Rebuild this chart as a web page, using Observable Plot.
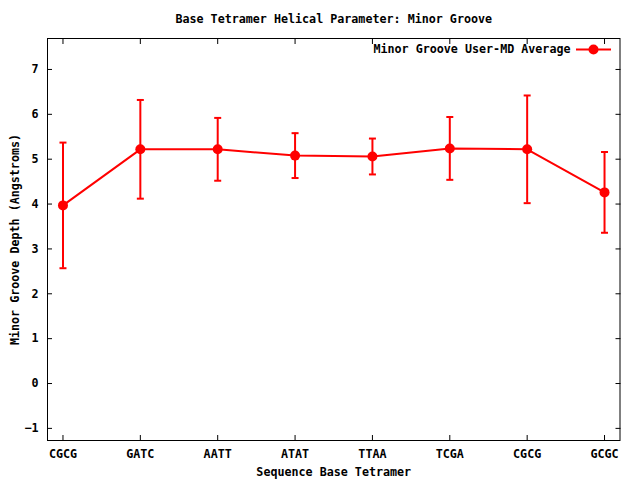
<!DOCTYPE html>
<html>
<head>
<meta charset="utf-8">
<script src="https://cdn.jsdelivr.net/npm/d3@7"></script>
<script src="https://cdn.jsdelivr.net/npm/@observablehq/plot@0.6"></script>
<style>
  html, body { margin: 0; padding: 0; background: #fff; }
</style>
</head>
<body>
<div id="chart"></div>
<script>
const tickLabels = ["CGCG", "GATC", "AATT", "ATAT", "TTAA", "TCGA", "CGCG", "GCGC"];
const means = [3.97, 5.22, 5.22, 5.08, 5.06, 5.24, 5.22, 4.26];
const errors = [1.40, 1.10, 0.70, 0.50, 0.40, 0.70, 1.20, 0.90];
const yTicks = [-1, 0, 1, 2, 3, 4, 5, 6, 7];
const titleText = "Base Tetramer Helical Parameter: Minor Groove";
const xLabel = "Sequence Base Tetramer";
const yLabel = "Minor Groove Depth (Angstroms)";
const legendLabel = "Minor Groove User-MD Average";

const data = tickLabels.map((t, i) => ({i, label: t, y: means[i], lo: means[i] - errors[i], hi: means[i] + errors[i]}));
const xTicks = tickLabels.map((_, i) => i);

const RED = "#ff0000";
const FONT = "'DejaVu Sans Mono', 'Liberation Mono', monospace";

const hline = {
  draw(context, size) {
    const h = Math.sqrt(size / Math.PI);
    context.moveTo(-h, 0);
    context.lineTo(h, 0);
  }
};

const chart = Plot.plot({
  width: 640,
  height: 480,
  marginLeft: 47,
  marginRight: 20.5,
  marginTop: 38,
  marginBottom: 40,
  style: {fontFamily: FONT, fontSize: "11.7px", fontWeight: "bold", background: "#fff", color: "#000"},
  x: {domain: [-0.2, 7.2], label: null},
  y: {domain: [-1.27, 7.69], label: null},
  marks: [
    Plot.frame({stroke: "#000", strokeWidth: 1}),
    // tick labels
    Plot.axisX(xTicks, {anchor: "bottom", tickSize: 0, tickPadding: 9, tickFormat: i => tickLabels[i], label: null, fontSize: 11.7}),
    Plot.axisY(yTicks, {anchor: "left", tickSize: 0, tickPadding: 9, label: null, fontSize: 11.7}),
    // inward ticks (all four sides)
    Plot.axisX(xTicks, {anchor: "bottom", tickSize: -5, text: null, label: null}),
    Plot.axisX(xTicks, {anchor: "top", tickSize: -5, text: null, label: null}),
    Plot.axisY(yTicks, {anchor: "left", tickSize: -5, text: null, label: null}),
    Plot.axisY(yTicks, {anchor: "right", tickSize: -5, text: null, label: null}),
    // series
    Plot.line(data, {x: "i", y: "y", stroke: RED, strokeWidth: 2}),
    Plot.ruleX(data, {x: "i", y1: "lo", y2: "hi", stroke: RED, strokeWidth: 2}),
    Plot.dot(data, {x: "i", y: "lo", symbol: hline, r: 3.5, stroke: RED, strokeWidth: 2, fill: "none"}),
    Plot.dot(data, {x: "i", y: "hi", symbol: hline, r: 3.5, stroke: RED, strokeWidth: 2, fill: "none"}),
    Plot.dot(data, {x: "i", y: "y", r: 5, fill: RED, stroke: "none"}),
    // legend
    Plot.text([legendLabel], {frameAnchor: "top-right", dx: -49.5, dy: 11, textAnchor: "end", lineAnchor: "middle", fontSize: 11.7, fill: "#000"}),
    Plot.dot([legendLabel], {frameAnchor: "top-right", dx: -26.5, dy: 11, symbol: hline, r: 17.5, stroke: RED, strokeWidth: 2, fill: "none"}),
    Plot.dot([legendLabel], {frameAnchor: "top-right", dx: -26.5, dy: 11, r: 5, fill: RED, stroke: "none"}),
    // title and axis labels
    Plot.text([titleText], {frameAnchor: "top", dy: -19, textAnchor: "middle", lineAnchor: "middle", fontSize: 11.7, fill: "#000"}),
    Plot.text([xLabel], {frameAnchor: "bottom", dy: 32, textAnchor: "middle", lineAnchor: "middle", fontSize: 11.7, fill: "#000"}),
    Plot.text([yLabel], {frameAnchor: "left", dx: -32, rotate: -90, textAnchor: "middle", lineAnchor: "middle", fontSize: 11.7, fill: "#000"})
  ]
});

document.getElementById("chart").appendChild(chart);
</script>
</body>
</html>
